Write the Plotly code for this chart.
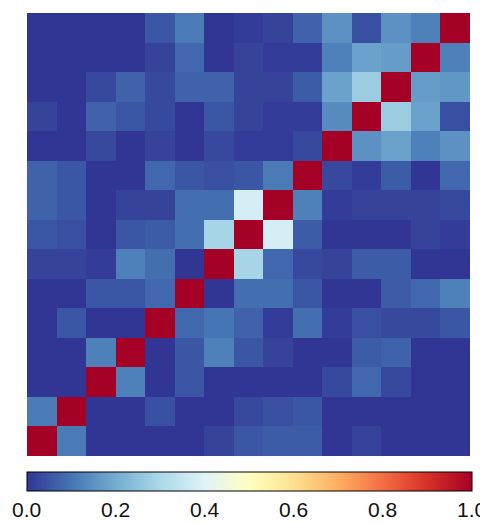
import plotly.graph_objects as go

# Correlation-like matrix values, one list per row (row 0 = bottom row)
row_00 = [1.00, 0.11, 0.00, 0.00, 0.00, 0.00, 0.02, 0.05, 0.06, 0.06, 0.00, 0.02, 0.00, 0.00, 0.00]
row_01 = [0.11, 1.00, 0.00, 0.00, 0.04, 0.00, 0.00, 0.03, 0.04, 0.05, 0.00, 0.00, 0.00, 0.00, 0.00]
row_02 = [0.00, 0.00, 1.00, 0.12, 0.00, 0.05, 0.00, 0.00, 0.00, 0.00, 0.03, 0.08, 0.03, 0.00, 0.00]
row_03 = [0.00, 0.00, 0.12, 1.00, 0.00, 0.05, 0.12, 0.05, 0.02, 0.00, 0.00, 0.06, 0.07, 0.00, 0.00]
row_04 = [0.00, 0.05, 0.00, 0.00, 1.00, 0.08, 0.10, 0.07, 0.01, 0.09, 0.01, 0.04, 0.03, 0.03, 0.05]
row_05 = [0.00, 0.00, 0.05, 0.05, 0.08, 1.00, 0.00, 0.09, 0.09, 0.05, 0.00, 0.00, 0.06, 0.08, 0.12]
row_06 = [0.02, 0.02, 0.01, 0.12, 0.09, 0.00, 1.00, 0.29, 0.08, 0.03, 0.02, 0.06, 0.06, 0.00, 0.00]
row_07 = [0.05, 0.04, 0.00, 0.05, 0.06, 0.09, 0.29, 1.00, 0.38, 0.06, 0.00, 0.00, 0.00, 0.02, 0.01]
row_08 = [0.07, 0.05, 0.00, 0.02, 0.02, 0.09, 0.09, 0.38, 1.00, 0.12, 0.01, 0.02, 0.02, 0.02, 0.03]
row_09 = [0.07, 0.05, 0.00, 0.00, 0.08, 0.05, 0.04, 0.05, 0.11, 1.00, 0.03, 0.01, 0.06, 0.00, 0.08]
row_10 = [0.00, 0.00, 0.03, 0.00, 0.02, 0.00, 0.03, 0.01, 0.01, 0.03, 1.00, 0.15, 0.18, 0.12, 0.15]
row_11 = [0.02, 0.00, 0.07, 0.05, 0.03, 0.00, 0.05, 0.02, 0.01, 0.01, 0.14, 1.00, 0.27, 0.18, 0.04]
row_12 = [0.00, 0.00, 0.03, 0.07, 0.03, 0.07, 0.07, 0.02, 0.02, 0.06, 0.18, 0.27, 1.00, 0.17, 0.16]
row_13 = [0.00, 0.00, 0.00, 0.00, 0.02, 0.08, 0.00, 0.02, 0.01, 0.01, 0.12, 0.18, 0.17, 1.00, 0.12]
row_14 = [0.00, 0.00, 0.00, 0.00, 0.05, 0.11, 0.00, 0.01, 0.02, 0.07, 0.15, 0.04, 0.15, 0.12, 1.00]

z = [row_00, row_01, row_02, row_03, row_04, row_05, row_06, row_07,
     row_08, row_09, row_10, row_11, row_12, row_13, row_14]

colorbar_ticks = [0.0, 0.2, 0.4, 0.6, 0.8, 1.0]
colorbar_ticktext = ["0.0", "0.2", "0.4", "0.6", "0.8", "1.0"]

fig = go.Figure(
    go.Heatmap(
        z=z,
        zmin=0,
        zmax=1,
        colorscale="RdYlBu_r",
        colorbar=dict(
            orientation="h",
            x=-0.001,
            xanchor="left",
            y=-0.036,
            yanchor="top",
            lenmode="pixels",
            len=445,
            thickness=19,
            thicknessmode="pixels",
            xpad=0,
            ypad=0,
            outlinewidth=1,
            outlinecolor="black",
            tickvals=colorbar_ticks,
            ticktext=colorbar_ticktext,
            ticks="outside",
            ticklen=1,
            tickcolor="rgba(0,0,0,0)",
            tickfont=dict(family="Liberation Sans", size=21, color="#111"),
        ),
        hoverinfo="skip",
    )
)

fig.update_xaxes(showticklabels=False, showgrid=False, zeroline=False, ticks="",
                 showline=False)
fig.update_yaxes(showticklabels=False, showgrid=False, zeroline=False, ticks="",
                 showline=False)

# The page body adds an 8px offset, so the figure is sized/margined to compensate
fig.update_layout(
    width=480,
    height=515,
    margin=dict(l=19, r=18, t=5, b=67, autoexpand=False),
    paper_bgcolor="white",
    plot_bgcolor="white",
)

fig.write_html("out.html")
